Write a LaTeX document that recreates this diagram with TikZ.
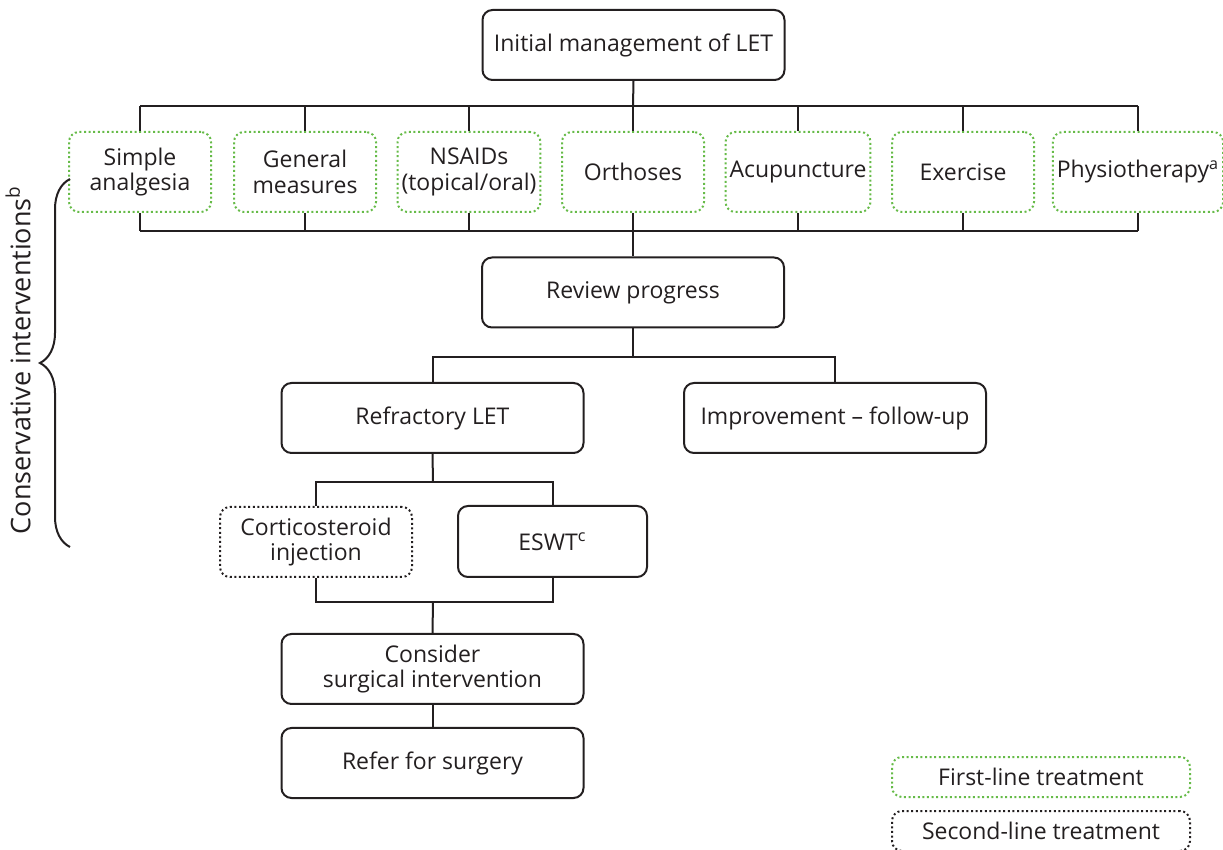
\documentclass[tikz,border=0pt]{standalone}
\usepackage{fontspec}
\setmainfont{Open Sans}
\usepackage{xcolor}
\usepackage{tikz}
\usetikzlibrary{decorations.pathreplacing}

\definecolor{firstgreen}{RGB}{102,187,72}
\definecolor{inkgray}{RGB}{35,31,32}

\begin{document}
\begin{tikzpicture}[x=0.5pt, y=-0.5pt,
        every node/.style={font=\fontsize{11.5}{12.8}\selectfont, text=inkgray},
        box/.style={draw=inkgray, line width=1pt, rounded corners=5pt,
                    align=center, inner sep=2pt},
        plainbox/.style={box, minimum width=151pt, minimum height=35pt},
        firstline/.style={box, draw=firstgreen, dash pattern=on 1pt off 1.3pt,
                    minimum width=71pt, minimum height=40pt},
        secondline/.style={box, dash pattern=on 1pt off 1.3pt},
        link/.style={draw=inkgray, line width=1pt}]

        \useasboundingbox (0,0) rectangle (1223,850);

        % Bus levels
        \coordinate (bustop) at (633,106);
        \coordinate (busbot) at (633,231);
        \coordinate (splitrev) at (633,357);
        \coordinate (splitref) at (433,482);
        \coordinate (mergeinj) at (433,602);

        % Top of the tree
        \node[plainbox] (init) at (633.5,45) {Initial management of LET};

        % First-line options
        \node[firstline] (simple) at (140,172) {Simple\\analgesia};
        \node[firstline] (general) at (305,172) {General\\measures};
        \node[firstline] (nsaid) at (469,172) {NSAIDs\\(topical/oral)};
        \node[firstline] (orth) at (633,172) {Orthoses};
        \node[firstline] (acu) at (798,172) {Acupuncture};
        \node[firstline] (exer) at (963,172) {Exercise};
        \node[firstline] (physio) at (1138,172) {Physiotherapy\textsuperscript{a}};

        % Review and outcomes
        \node[plainbox] (review) at (633,292.5) {Review progress};
        \node[plainbox] (refr) at (432.5,418) {Refractory LET};
        \node[plainbox] (impr) at (835,418) {Improvement -- follow-up};

        % Second-line options
        \node[secondline,
                minimum width=96pt,
                minimum height=35pt] (cort) at (316,542) {Corticosteroid\\injection};
        \node[box,
                minimum width=94.5pt,
                minimum height=35.5pt] (eswt) at (552.5,541.5) {ESWT\textsuperscript{c}};

        % Surgery
        \node[plainbox] (consider) at (432.5,669) {Consider\\surgical intervention};
        \node[plainbox] (refer) at (432.5,763) {Refer for surgery};

        % Key
        \node[firstline,
                minimum width=149pt,
                minimum height=20pt] (keyfirst) at (1041,777) {First-line treatment};
        \node[secondline,
                minimum width=149pt,
                minimum height=20pt] (keysecond) at (1041,831) {Second-line treatment};

        % Connectors
        \draw[link] (init.south) -- (bustop);
        \draw[link] (simple.north |- bustop) -- (physio.north |- bustop);
        \draw[link] (simple.south |- busbot) -- (physio.south |- busbot);
        \foreach \opt in {simple,general,nsaid,orth,acu,exer,physio} {
            \draw[link] (\opt.north) -- (\opt.north |- bustop);
            \draw[link] (\opt.south) -- (\opt.south |- busbot);
        }
        \draw[link] (busbot) -- (review.north);

        \draw[link] (review.south) -- (splitrev);
        \draw[link] (refr.north) -- (refr.north |- splitrev) -- (impr.north |- splitrev) -- (impr.north);

        \draw[link] (refr.south) -- (splitref);
        \draw[link] (cort.north) -- (cort.north |- splitref) -- (eswt.north |- splitref) -- (eswt.north);
        \draw[link] (cort.south) -- (cort.south |- mergeinj) -- (eswt.south |- mergeinj) -- (eswt.south);
        \draw[link] (mergeinj) -- (consider.north);
        \draw[link] (consider.south) -- (refer.north);

        % Brace for the conservative part
        \coordinate (bracelow) at (70,547);
        \coordinate (bracehigh) at (70,179);
        \draw[link, decorate, decoration={brace, amplitude=15pt}] (bracelow) -- (bracehigh);
        \node[rotate=90, font=\fontsize{13.5}{15}\selectfont] (conslabel) at (18,360) {Conservative interventions\textsuperscript{b}};

\end{tikzpicture}
\end{document}
